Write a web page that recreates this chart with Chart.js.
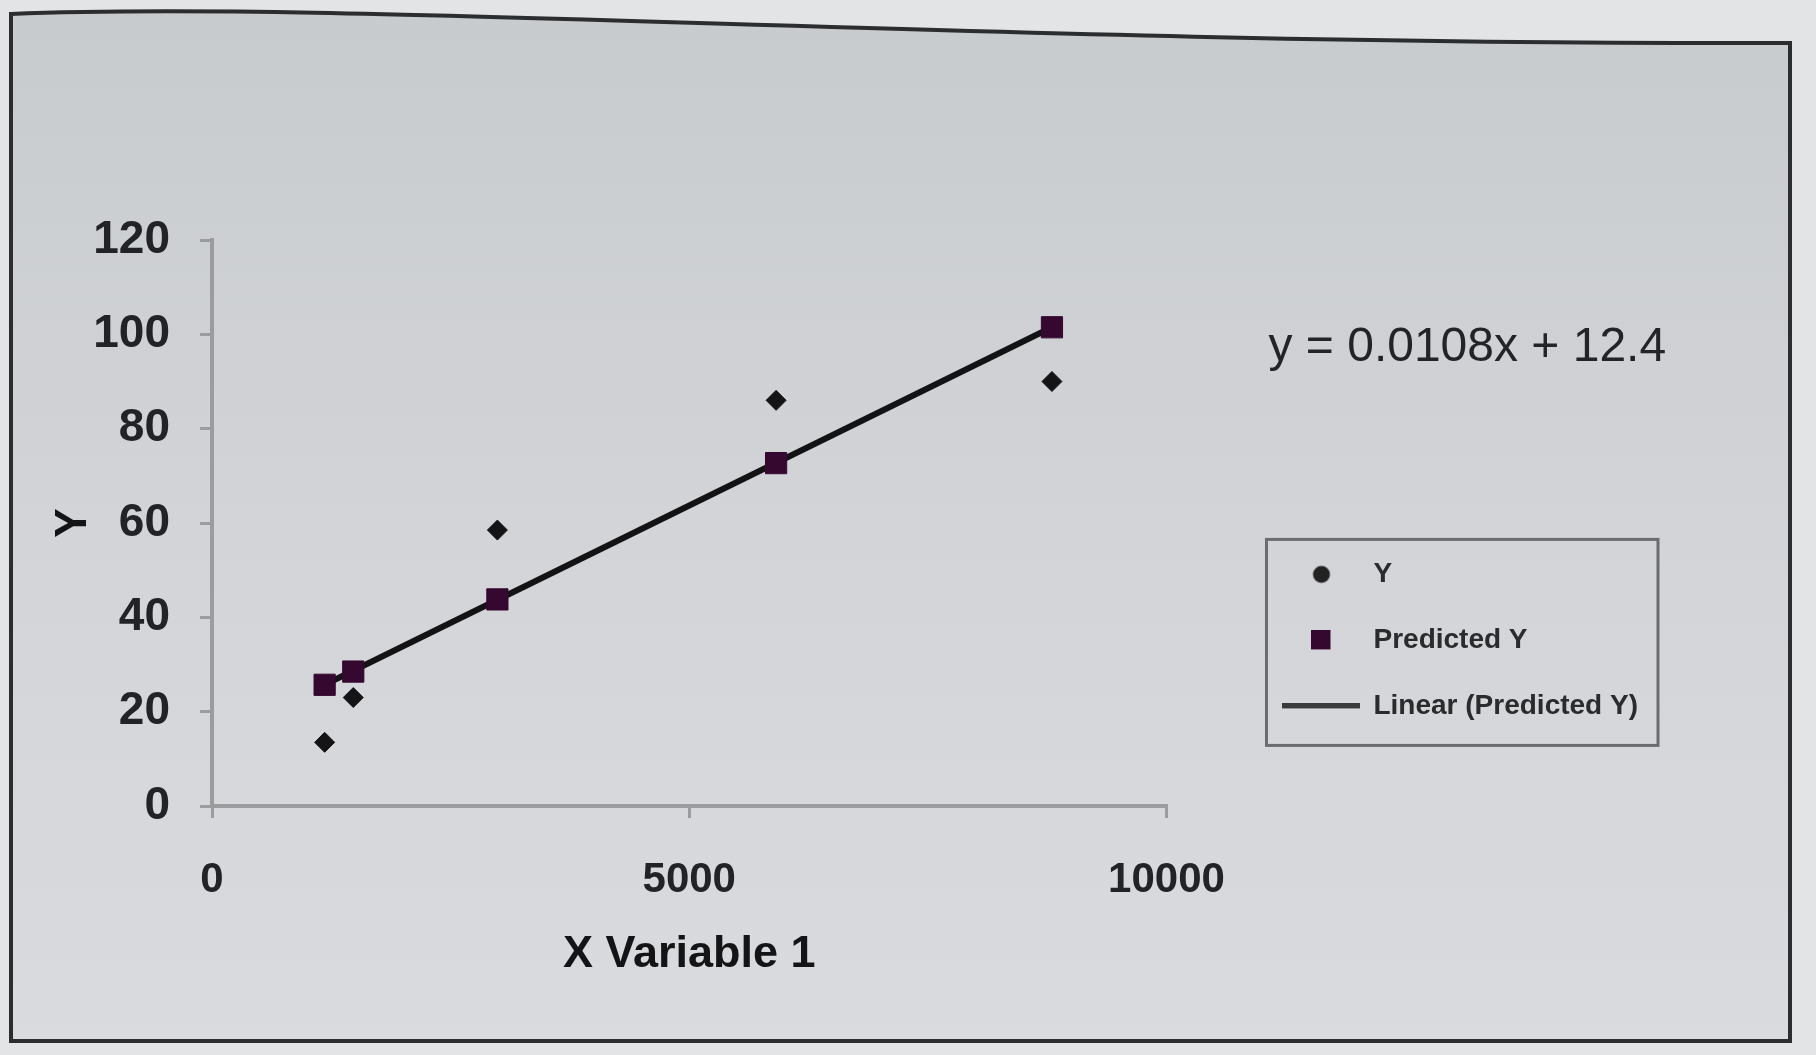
<!DOCTYPE html>
<html>
<head>
<meta charset="utf-8">
<title>X Variable 1 Line Fit Plot</title>
<script src="https://cdn.jsdelivr.net/npm/chart.js@4"></script>
<style>
  html, body { margin: 0; padding: 0; background: #e2e4e6; overflow: hidden; }
  #wrap { position: relative; width: 1816px; height: 1055px; }
</style>
</head>
<body>
<div id="wrap"><canvas id="fitChart"></canvas></div>
<script>
// regression output: X Variable 1 against observed and predicted Y
const xVariable1 = [1180, 1480, 2990, 5910, 8800];
const observedY = [13.5, 23, 58.5, 86, 90];
const predictedY = [25.7, 28.5, 43.8, 72.7, 101.5];
const seriesNames = ["Y", "Predicted Y", "Linear (Predicted Y)"];
const yTicks = [0, 20, 40, 60, 80, 100, 120];
const xTicks = [0, 5000, 10000];
const trendLabel = "y = 0.0108x + 12.4";

const FONT = "'Liberation Sans', Arial, Helvetica, sans-serif";
Chart.defaults.font.family = FONT;
Chart.defaults.color = "#1e1f21";

function points(xs, ys) {
    return xs.map((x, i) => ({ x: x, y: ys[i] }));
}

// small canvases used as legend symbols
function symbol(w, h, draw) {
    const c = document.createElement("canvas");
    c.width = w;
    c.height = h;
    draw(c.getContext("2d"));
    return c;
}
const legendSymbols = [
    symbol(20, 20, (ctx) => {
        ctx.fillStyle = "#222";
        ctx.beginPath();
        ctx.arc(10, 10, 8.5, 0, Math.PI * 2);
        ctx.fill();
    }),
    symbol(20, 20, (ctx) => {
        ctx.fillStyle = "#35082f";
        ctx.fillRect(0, 0, 19, 19);
    }),
    symbol(78, 6, (ctx) => {
        ctx.fillStyle = "#3a3a3a";
        ctx.fillRect(0, 0, 78, 5);
    }),
];

// paper background and the printed frame round the chart
const paperFrame = {
    id: "paperFrame",
    beforeDraw(chart) {
        const ctx = chart.ctx;
        const w = chart.width, h = chart.height;
        ctx.save();
        ctx.fillStyle = "#e2e4e6";
        ctx.fillRect(0, 0, w, h);
        ctx.beginPath();
        ctx.moveTo(11, 1041);
        ctx.lineTo(11, 14);
        ctx.bezierCurveTo(350, 0, 1000, 45, 1790, 43);
        ctx.lineTo(1790, 1041);
        ctx.closePath();
        const g = ctx.createLinearGradient(0, 0, 0, h);
        g.addColorStop(0, "#c8cbce");
        g.addColorStop(0.5, "#d2d4d7");
        g.addColorStop(1, "#d9dbde");
        ctx.fillStyle = g;
        ctx.fill();
        ctx.lineWidth = 4;
        ctx.strokeStyle = "#2b2d2f";
        ctx.stroke();
        ctx.restore();
    },
};

// border round the legend and the trendline equation above it
const legendFrame = {
    id: "legendFrame",
    afterDraw(chart) {
        const boxes = chart.legend.legendHitBoxes;
        if (!boxes || !boxes.length) return;
        const ctx = chart.ctx;
        const last = boxes[boxes.length - 1];
        const x0 = boxes[0].left - 17;
        const y0 = boxes[0].top - 21;
        const x1 = Math.max(...boxes.map((b) => b.left + b.width)) + 20;
        const y1 = last.top + last.height + 25;
        ctx.save();
        ctx.lineWidth = 3;
        ctx.strokeStyle = "#6a6c6e";
        ctx.strokeRect(x0, y0, x1 - x0, y1 - y0);
        ctx.font = "48px " + FONT;
        ctx.fillStyle = "#232427";
        ctx.textAlign = "left";
        ctx.textBaseline = "middle";
        ctx.fillText(trendLabel, x0 + 2, chart.chartArea.top + 108);
        ctx.restore();
    },
};

const ctx = document.getElementById("fitChart").getContext("2d");
new Chart(ctx, {
    type: "scatter",
    data: {
        datasets: [
            {
                label: seriesNames[0],
                data: points(xVariable1, observedY),
                pointStyle: "rectRot",
                pointRadius: 10,
                backgroundColor: "#141416",
                borderColor: "#141416",
                borderWidth: 1,
            },
            {
                label: seriesNames[1],
                data: points(xVariable1, predictedY),
                pointStyle: "rect",
                pointRadius: 15,
                backgroundColor: "#35082f",
                borderColor: "#35082f",
                borderWidth: 1,
            },
            {
                label: seriesNames[2],
                data: [
                    { x: xVariable1[0], y: predictedY[0] },
                    { x: xVariable1[xVariable1.length - 1], y: predictedY[predictedY.length - 1] },
                ],
                showLine: true,
                borderColor: "#131315",
                borderWidth: 6,
                pointRadius: 0,
            },
        ],
    },
    options: {
        responsive: true,
        maintainAspectRatio: false,
        animation: false,
        events: [],
        layout: {
            padding: { left: 47, top: 240, right: 168, bottom: 73 },
        },
        plugins: {
            tooltip: { enabled: false },
            legend: {
                position: "right",
                align: "start",
                maxWidth: 520,
                title: {
                    display: true,
                    text: " ",
                    font: { size: 12 },
                    padding: { top: 0, bottom: 268 },
                },
                labels: {
                    usePointStyle: true,
                    pointStyleWidth: 76,
                    boxHeight: 20,
                    padding: 38,
                    color: "#2a2b2d",
                    font: { size: 28, weight: "bold" },
                    generateLabels(chart) {
                        const items = Chart.defaults.plugins.legend.labels.generateLabels(chart);
                        items.forEach((item, i) => {
                            item.pointStyle = legendSymbols[i];
                        });
                        return items;
                    },
                },
            },
        },
        scales: {
            x: {
                type: "linear",
                min: xTicks[0],
                max: xTicks[xTicks.length - 1],
                afterBuildTicks(scale) {
                    scale.ticks = xTicks.map((v) => ({ value: v }));
                },
                afterFit(scale) {
                    scale.height = 176;
                },
                grid: {
                    drawOnChartArea: false,
                    drawTicks: true,
                    tickLength: 12,
                    color: "#9b9c9e",
                    lineWidth: 3,
                },
                border: { color: "#9b9c9e", width: 4 },
                ticks: {
                    padding: 37,
                    color: "#222326",
                    font: { size: 42, weight: "bold" },
                    callback: (value) => String(value),
                },
                title: {
                    display: true,
                    text: "X Variable 1",
                    color: "#141416",
                    font: { size: 45, weight: "bold" },
                    padding: 0,
                },
            },
            y: {
                type: "linear",
                min: yTicks[0],
                max: yTicks[yTicks.length - 1],
                afterBuildTicks(scale) {
                    scale.ticks = yTicks.map((v) => ({ value: v }));
                },
                afterFit(scale) {
                    scale.width = 165;
                },
                grid: {
                    drawOnChartArea: false,
                    drawTicks: true,
                    tickLength: 12,
                    color: "#9b9c9e",
                    lineWidth: 3,
                },
                border: { color: "#9b9c9e", width: 4 },
                ticks: {
                    padding: 30,
                    color: "#222326",
                    font: { size: 46, weight: "bold" },
                    callback: (value) => String(value),
                },
                title: {
                    display: true,
                    text: "Y",
                    color: "#141416",
                    font: { size: 44, weight: "bold" },
                    padding: 0,
                },
            },
            // empty axis that keeps room between the plot and the legend
            gap: {
                type: "linear",
                position: "right",
                display: true,
                grid: { display: false },
                border: { display: false },
                ticks: { display: false },
                afterFit(scale) {
                    scale.width = 79;
                },
            },
        },
    },
    plugins: [paperFrame, legendFrame],
});
</script>
</body>
</html>
